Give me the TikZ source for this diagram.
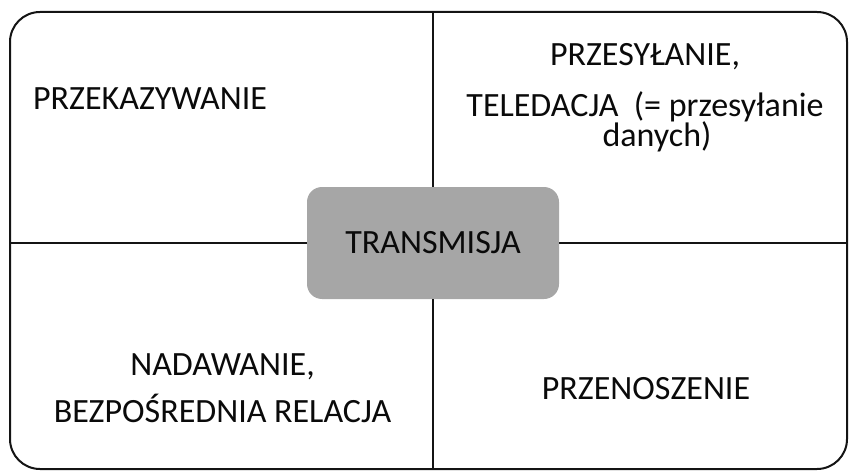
\documentclass[tikz,border=0pt]{standalone}
\usepackage{fontspec}
\setmainfont{Carlito}
\usetikzlibrary{
  positioning
}
\definecolor{framecolor}{RGB}{20, 20, 20}
\definecolor{hubcolor}{RGB}{166, 166, 166}
\definecolor{labelcolor}{RGB}{10, 10, 10}
\tikzset{
framebox/.style={
  draw=framecolor,
  line width=1pt,
  rounded corners=15pt,
  minimum width=418.5pt,
  minimum height=228.5pt,
  inner sep=0pt
},
hubblock/.style={
  fill=hubcolor,
  rounded corners=7.5pt,
  minimum width=126pt,
  minimum height=56pt,
  inner sep=0pt,
  font=\fontsize{17}{20}\selectfont,
  text=labelcolor
},
quadtext/.style={
  anchor=base,
  align=center,
  inner sep=0pt,
  text=labelcolor
},
divider/.style={
  draw=framecolor,
  line width=1pt
}
}

\begin{document}
\begin{tikzpicture}[x=0.5pt, y=-0.5pt]
  \useasboundingbox (0,0) rectangle (849,470);

  % outer frame and the central term
  \node[framebox] (frame) at (428.5,240.5) {};
  \node[hubblock] (hub) at (433,243) {TRANSMISJA};

  % the four dividers meet the frame
  \draw[divider] (hub.north) -- (hub.north |- frame.north);
  \draw[divider] (hub.south) -- (hub.south |- frame.south);
  \draw[divider] (hub.west) -- (hub.west -| frame.west);
  \draw[divider] (hub.east) -- (hub.east -| frame.east);

  % quadrant labels (base = baseline of the last line)
  \node[quadtext, font=\fontsize{17}{20.5}\selectfont] (nw) at (150,110) {PRZEKAZYWANIE};
  \node[quadtext, font=\fontsize{17}{20.5}\selectfont] (ne) at (645,147)
    {PRZESYŁANIE,\\[5pt]TELEDACJA\ \ (= przesyłanie\\[-5.5pt]\hspace*{12pt}danych)};
  \node[quadtext, font=\fontsize{17}{23.5}\selectfont] (sw) at (222.5,422)
    {NADAWANIE,\\BEZPOŚREDNIA RELACJA};
  \node[quadtext, font=\fontsize{17}{20.5}\selectfont] (se) at (646,399) {PRZENOSZENIE};
\end{tikzpicture}
\end{document}
